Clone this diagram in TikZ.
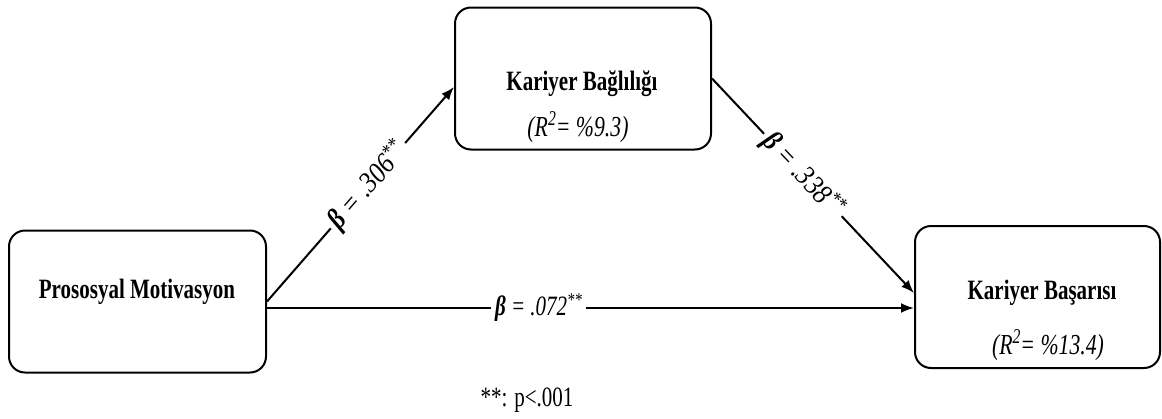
\documentclass[tikz,border=0pt]{standalone}
\usepackage{fontspec}
\setmainfont{Liberation Serif}[FakeStretch=0.75]
\newfontfamily\diagfont{Liberation Serif}[FakeStretch=0.87]
\usetikzlibrary{arrows.meta}
\newcommand{\rsup}[1]{\raisebox{0.38em}{\fontsize{21}{21}\selectfont #1}}
\begin{document}
\begin{tikzpicture}[x=1pt,y=-1pt,
  box/.style={draw,line width=2pt,rounded corners=16pt,minimum width=#1,minimum height=142pt,inner sep=0pt},
  title/.style={font=\fontsize{28}{32}\selectfont\bfseries,inner sep=0pt},
  rsq/.style={font=\fontsize{29}{32}\selectfont\itshape,inner sep=0pt},
  arr/.style={line width=2pt,-{Latex[length=13pt,width=10pt]}},
  coef/.style={font=\fontsize{28}{32}\selectfont\itshape,fill=white,inner sep=4pt,sloped},
  dcoef/.style={coef,font=\fontsize{29}{32}\selectfont\diagfont\itshape}]
\useasboundingbox (0,0) rectangle (1162,418);
\node[box=257pt] (L) at (137.5,301.5) {};
\node[box=256pt] (T) at (583,78.5) {};
\node[box=245pt] (R) at (1037.5,297) {};
\node[title] (Lt) at (137,292) {Prososyal Motivasyon};
\node[title] (Tt) at (582,84) {Kariyer Bağlılığı};
\node[rsq] (Tr) at (578,127) {(R\rsup{2}= \%9.3)};
\node[title] (Rt) at (1042,293) {Kariyer Başarısı};
\node[rsq] (Rr) at (1048,345) {(R\rsup{2}= \%13.4)};
\node[font=\fontsize{28}{32}\selectfont,inner sep=0pt] (note) at (527,400) {**: p<.001};
\coordinate (H) at (0,308);
\draw[arr] (L.east |- H) -- node[coef,pos=0.42] {\textbf{β} = .072\textsuperscript{**}} (R.west |- H);
\draw[arr] (L.east) -- node[dcoef,pos=0.54] {\textbf{β} = .306\textsuperscript{**}} ([yshift=-8.5pt]T.west);
\draw[arr] (T.east) -- node[dcoef,pos=0.45] {\textbf{β} = .338\textsuperscript{**}} ([yshift=4pt]R.west);
\end{tikzpicture}
\end{document}
